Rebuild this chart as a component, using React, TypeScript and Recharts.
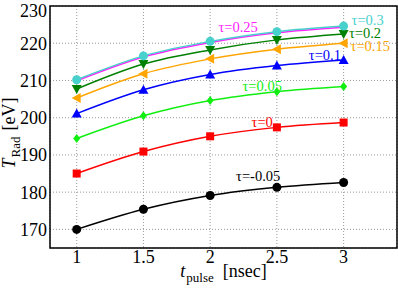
import {
  LineChart,
  Line,
  XAxis,
  YAxis,
  CartesianGrid,
  ReferenceArea,
  ReferenceDot,
  Label,
} from "recharts";

const pulse = [1, 1.5, 2, 2.5, 3];
const tauM005 = [170.0, 175.4, 179.1, 181.3, 182.6];
const tau0 = [185.0, 190.9, 195.0, 197.4, 198.7];
const tau005 = [194.4, 200.5, 204.6, 207.0, 208.4];
const tau01 = [201.1, 207.5, 211.6, 214.0, 215.5];
const tau015 = [205.3, 211.8, 215.8, 218.4, 220.0];
const tau02 = [207.7, 214.4, 218.2, 220.9, 222.5];
const tau025 = [209.9, 216.3, 220.2, 222.8, 224.3];
const tau03 = [210.2, 216.6, 220.5, 223.1, 224.6];

const xTicks = [1, 1.5, 2, 2.5, 3];
const yTicks = [170, 180, 190, 200, 210, 220, 230];

const data = pulse.map((t, i) => ({
  t,
  m005: tauM005[i],
  p0: tau0[i],
  p005: tau005[i],
  p01: tau01[i],
  p015: tau015[i],
  p02: tau02[i],
  p025: tau025[i],
  p03: tau03[i],
}));

const FONT = "'Liberation Serif', 'DejaVu Serif', serif";

type Shape = "circle" | "square" | "diamond" | "up" | "down" | "left" | "none";

function marker(shape: Shape, color: string) {
  return (props: any) => {
    const { cx, cy, index } = props;
    if (cx == null || cy == null || shape === "none") return <g key={index} />;
    const r = 4.5;
    if (shape === "circle")
      return <circle key={index} cx={cx} cy={cy} r={r} fill={color} />;
    if (shape === "square")
      return <rect key={index} x={cx - 4} y={cy - 4} width={8} height={8} fill={color} />;
    if (shape === "diamond")
      return (
        <polygon
          key={index}
          points={`${cx},${cy - 4.5} ${cx + 3.5},${cy} ${cx},${cy + 4.5} ${cx - 3.5},${cy}`}
          fill={color}
        />
      );
    if (shape === "up")
      return (
        <polygon key={index} points={`${cx},${cy - 5} ${cx + 5},${cy + 4} ${cx - 5},${cy + 4}`} fill={color} />
      );
    if (shape === "down")
      return (
        <polygon key={index} points={`${cx},${cy + 5} ${cx + 5},${cy - 4} ${cx - 5},${cy - 4}`} fill={color} />
      );
    return (
      <polygon key={index} points={`${cx - 5},${cy} ${cx + 4},${cy - 5} ${cx + 4},${cy + 5}`} fill={color} />
    );
  };
}

const series: { key: string; color: string; shape: Shape; label: string; lx: number; ly: number }[] = [
  { key: "m005", color: "#000000", shape: "circle", label: "τ=-0.05", lx: 2.36, ly: 184.3 },
  { key: "p0", color: "#ff0000", shape: "square", label: "τ=0", lx: 2.39, ly: 199.0 },
  { key: "p005", color: "#11ee11", shape: "diamond", label: "τ=0.05", lx: 2.39, ly: 208.6 },
  { key: "p01", color: "#0000ff", shape: "up", label: "τ=0.1", lx: 2.86, ly: 216.9 },
  { key: "p015", color: "#ffa500", shape: "left", label: "τ=0.15", lx: 3.2, ly: 219.2 },
  { key: "p02", color: "#008000", shape: "down", label: "τ=0.2", lx: 3.16, ly: 222.7 },
  { key: "p025", color: "#ff22ff", shape: "none", label: "τ=0.25", lx: 2.21, ly: 224.4 },
  { key: "p03", color: "#48d1cc", shape: "circle", label: "τ=0.3", lx: 3.18, ly: 226.2 },
];

const YTitle = (props: any) => {
  const vb = props.viewBox || {};
  const cx = 15;
  const cy = vb.y + vb.height / 2 + 6;
  return (
    <text
      x={cx}
      y={cy}
      transform={`rotate(-90 ${cx} ${cy})`}
      textAnchor="middle"
      fontFamily={FONT}
      fontSize={18}
      fill="#000"
    >
      <tspan fontStyle="italic">T</tspan>
      <tspan fontSize={13} dy={5} dx={1}>Rad</tspan>
      <tspan dy={-5} dx={6}>[eV]</tspan>
    </text>
  );
};

const XTitle = (props: any) => {
  const vb = props.viewBox || {};
  const cx = vb.x + vb.width / 2;
  return (
    <text x={cx} y={277} textAnchor="middle" fontFamily={FONT} fontSize={18} fill="#000">
      <tspan fontStyle="italic">t</tspan>
      <tspan fontSize={13} dy={5} dx={1}>pulse</tspan>
      <tspan dy={-5} dx={9}>[nsec]</tspan>
    </text>
  );
};

export default function App() {
  return (
    <div style={{ position: "fixed", left: 0, top: 0, background: "#fff" }}>
      <LineChart
        width={398}
        height={290}
        data={data}
        margin={{ top: 6, right: 1, bottom: 0, left: 0 }}
      >
        <CartesianGrid stroke="#999" strokeDasharray="1 2" />
        <XAxis
          dataKey="t"
          type="number"
          domain={[0.8, 3.4]}
          ticks={xTicks}
          tickLine={false}
          axisLine={false}
          tickSize={0}
          tickMargin={2}
          height={42}
          tick={{ fontSize: 18, fontFamily: FONT, fill: "#000" }}
        >
          <Label content={<XTitle />} />
        </XAxis>
        <YAxis
          type="number"
          domain={[165, 230]}
          ticks={yTicks}
          tickLine={false}
          axisLine={false}
          tickSize={0}
          tickMargin={3}
          width={50}
          tick={{ fontSize: 18, fontFamily: FONT, fill: "#000" }}
        >
          <Label content={<YTitle />} />
        </YAxis>
        <ReferenceArea
          x1={0.8}
          x2={3.4}
          y1={165}
          y2={230}
          fill="none"
          fillOpacity={0}
          stroke="#000"
          strokeWidth={1.5}
        />
        {series.map((s) => (
          <Line
            key={s.key}
            dataKey={s.key}
            type="monotone"
            stroke={s.color}
            strokeWidth={1.5}
            dot={marker(s.shape, s.color)}
            activeDot={false}
            isAnimationActive={false}
          />
        ))}
        {series.map((s) => (
          <ReferenceDot
            key={"l" + s.key}
            x={s.lx}
            y={s.ly}
            r={0}
            fill="none"
            stroke="none"
            ifOverflow="visible"
          >
            <Label
              value={s.label}
              position="center"
              fill={s.color}
              fontSize={14.5}
              fontFamily={FONT}
            />
          </ReferenceDot>
        ))}
      </LineChart>
    </div>
  );
}
